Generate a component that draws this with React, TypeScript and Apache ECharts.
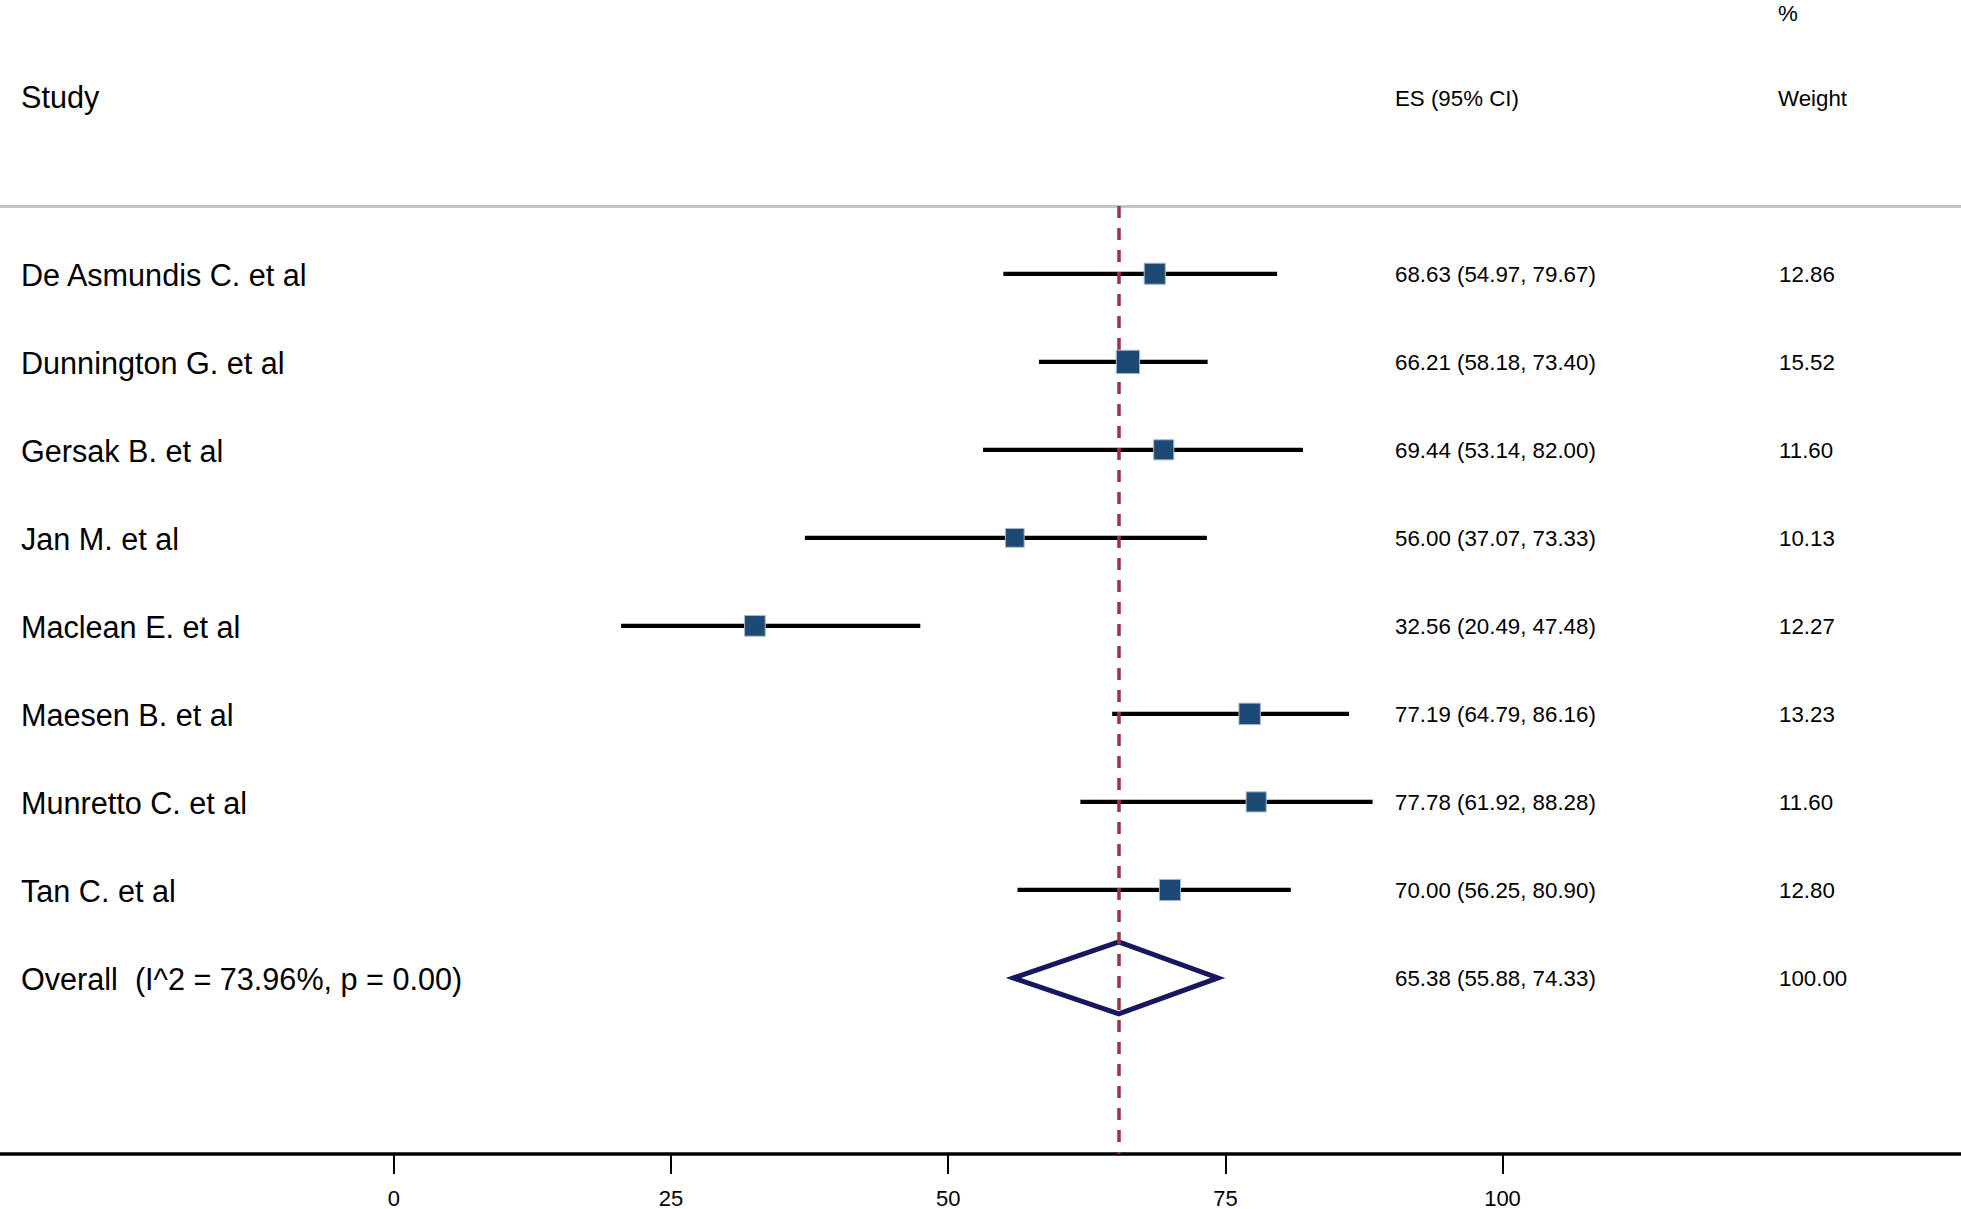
import React, { useEffect, useRef } from "react";
import * as echarts from "echarts";

const studies = [
  "De Asmundis C. et al",
  "Dunnington G. et al",
  "Gersak B. et al",
  "Jan M. et al",
  "Maclean E. et al",
  "Maesen B. et al",
  "Munretto C. et al",
  "Tan C. et al",
];
const esValues = [68.63, 66.21, 69.44, 56.0, 32.56, 77.19, 77.78, 70.0];
const lowerCI = [54.97, 58.18, 53.14, 37.07, 20.49, 64.79, 61.92, 56.25];
const upperCI = [79.67, 73.4, 82.0, 73.33, 47.48, 86.16, 88.28, 80.9];
const weights = [12.86, 15.52, 11.6, 10.13, 12.27, 13.23, 11.6, 12.8];

const overallLabel = "Overall  (I^2 = 73.96%, p = 0.00)";
const overallES = [65.38];
const overallLower = [55.88];
const overallUpper = [74.33];
const overallWeight = [100.0];

const xTicks = [0, 25, 50, 75, 100];
const headerStudy = "Study";
const headerES = "ES (95% CI)";
const headerWeight = "Weight";
const headerPct = "%";

const X_MIN = -35.54;
const X_MAX = 141.36;
const FONT = '"Liberation Sans", Arial, Helvetica, sans-serif';

function fmtCI(e: number, l: number, u: number) {
  return `${e.toFixed(2)} (${l.toFixed(2)}, ${u.toFixed(2)})`;
}

export default function App() {
  const ref = useRef<HTMLDivElement>(null);

  useEffect(() => {
    if (!ref.current) return;
    const chart = echarts.init(ref.current, undefined, { renderer: "svg" });

    const nRows = studies.length;
    const rowLabels = [...studies, overallLabel];
    const rowES = [
      ...esValues.map((e, i) => fmtCI(e, lowerCI[i], upperCI[i])),
      fmtCI(overallES[0], overallLower[0], overallUpper[0]),
    ];
    const rowW = [...weights, ...overallWeight].map((w) => w.toFixed(2));

    const labelFont = 30.6;
    const colFont = 22.3;

    const option: any = {
      animation: false,
      backgroundColor: "#ffffff",
      grid: { left: 0, right: 0, top: 206, bottom: 50, containLabel: false },
      xAxis: [
        {
          type: "value",
          min: X_MIN,
          max: X_MAX,
          position: "bottom",
          axisLine: { show: true, onZero: false, lineStyle: { color: "#000", width: 3.5 } },
          axisTick: {
            show: true,
            customValues: xTicks,
            length: 20,
            lineStyle: { color: "#000", width: 2 },
          },
          axisLabel: {
            show: true,
            customValues: xTicks,
            margin: 33,
            fontSize: 22,
            color: "#000",
            fontFamily: FONT,
          },
          splitLine: { show: false },
        },
        {
          type: "value",
          min: X_MIN,
          max: X_MAX,
          position: "top",
          axisLine: { show: true, onZero: false, lineStyle: { color: "#c4c4c4", width: 3 } },
          axisTick: { show: false },
          axisLabel: { show: false },
          splitLine: { show: false },
        },
      ],
      yAxis: {
        type: "value",
        min: -0.77,
        max: 10,
        inverse: true,
        show: false,
        splitLine: { show: false },
      },
      graphic: [
        {
          type: "text",
          x: 21,
          y: 97,
          style: { text: headerStudy, fontSize: labelFont, fontFamily: FONT, fill: "#000", verticalAlign: "middle" },
        },
        {
          type: "text",
          x: 1395,
          y: 98,
          style: { text: headerES, fontSize: colFont, fontFamily: FONT, fill: "#000", verticalAlign: "middle" },
        },
        {
          type: "text",
          x: 1778,
          y: 98,
          style: { text: headerWeight, fontSize: colFont, fontFamily: FONT, fill: "#000", verticalAlign: "middle" },
        },
        {
          type: "text",
          x: 1778,
          y: 13,
          style: { text: headerPct, fontSize: colFont, fontFamily: FONT, fill: "#000", verticalAlign: "middle" },
        },
      ],
      series: [
        {
          type: "custom",
          name: "ci",
          z: 2,
          data: lowerCI.map((l, i) => [l, upperCI[i], i]),
          encode: { x: [0, 1], y: 2 },
          renderItem: (params: any, api: any) => {
            const p1 = api.coord([api.value(0), api.value(2)]);
            const p2 = api.coord([api.value(1), api.value(2)]);
            return {
              type: "line",
              shape: { x1: p1[0], y1: p1[1], x2: p2[0], y2: p2[1] },
              style: { stroke: "#000", lineWidth: 4.3 },
            };
          },
          markLine: {
            silent: true,
            symbol: ["none", "none"],
            label: { show: false },
            lineStyle: { type: [12, 10], color: "#9b3346", width: 3.5 },
            data: [{ xAxis: overallES[0] }],
          },
        },
        {
          type: "scatter",
          name: "es",
          z: 5,
          symbol: "rect",
          symbolSize: (val: number[]) => 5.9 * Math.sqrt(val[2]),
          itemStyle: { color: "#1d4a75", borderColor: "#a9b8c8", borderWidth: 1, opacity: 1 },
          data: esValues.map((e, i) => [e, i, weights[i]]),
        },
        {
          type: "custom",
          name: "overall",
          z: 4,
          data: [[overallLower[0], overallES[0], overallUpper[0], nRows]],
          encode: { x: [0, 1, 2], y: 3 },
          renderItem: (params: any, api: any) => {
            const y = api.value(3);
            const pl = api.coord([api.value(0), y]);
            const pc = api.coord([api.value(1), y]);
            const pr = api.coord([api.value(2), y]);
            const h = 36;
            return {
              type: "polygon",
              shape: {
                points: [
                  [pl[0], pl[1]],
                  [pc[0], pc[1] - h],
                  [pr[0], pr[1]],
                  [pc[0], pc[1] + h],
                ],
              },
              style: { fill: "none", stroke: "#17165f", lineWidth: 5, lineJoin: "miter" },
            };
          },
        },
        {
          type: "custom",
          name: "text",
          z: 6,
          data: rowLabels.map((_, i) => [0, i]),
          encode: { x: 0, y: 1 },
          renderItem: (params: any, api: any) => {
            const i = params.dataIndex;
            const y = api.coord([0, api.value(1)])[1];
            return {
              type: "group",
              children: [
                {
                  type: "text",
                  x: 21,
                  y: y + 1,
                  style: { text: rowLabels[i], fontSize: labelFont, fontFamily: FONT, fill: "#000", verticalAlign: "middle" },
                },
                {
                  type: "text",
                  x: 1395,
                  y: y + 1,
                  style: { text: rowES[i], fontSize: colFont, fontFamily: FONT, fill: "#000", verticalAlign: "middle" },
                },
                {
                  type: "text",
                  x: 1779,
                  y: y + 1,
                  style: { text: rowW[i], fontSize: colFont, fontFamily: FONT, fill: "#000", verticalAlign: "middle" },
                },
              ],
            };
          },
        },
      ],
    };

    chart.setOption(option);
    return () => chart.dispose();
  }, []);

  return (
    <div
      ref={ref}
      style={{ position: "absolute", left: 0, top: 0, width: 1961, height: 1209, background: "#fff" }}
    />
  );
}
